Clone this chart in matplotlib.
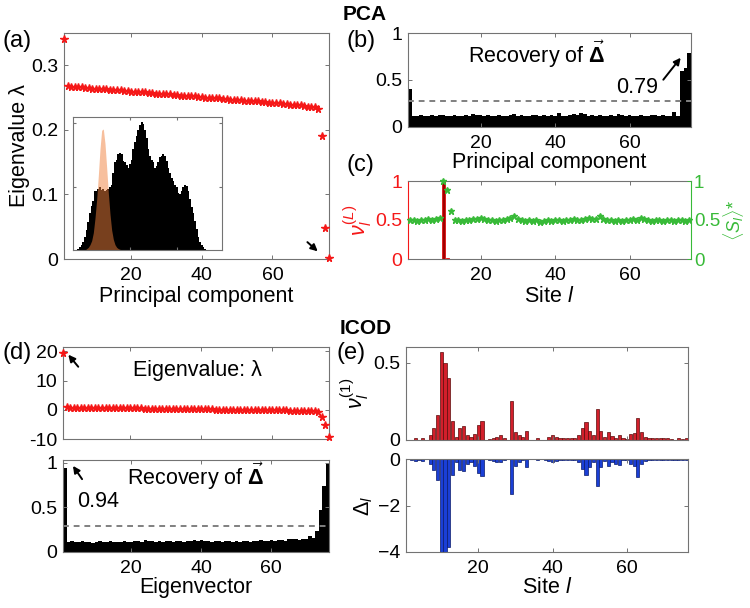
import numpy as np
import matplotlib
matplotlib.use("Agg")
import matplotlib.pyplot as plt

plt.rcParams['font.family'] = ['Liberation Sans', 'DejaVu Sans']
plt.rcParams['mathtext.fontset'] = 'custom'
plt.rcParams['mathtext.rm'] = 'Liberation Sans'
plt.rcParams['mathtext.it'] = 'Liberation Sans:italic'
plt.rcParams['mathtext.bf'] = 'Liberation Sans:bold'

# ---------------- data ----------------
sites = np.arange(1, 77)

pca_eig = [0.340,
    0.268,0.267,0.267,0.266,0.266,0.265,0.265,0.264,0.264,0.263,
    0.263,0.263,0.262,0.262,0.261,0.261,0.260,0.260,0.259,0.259,
    0.259,0.258,0.258,0.257,0.257,0.256,0.256,0.256,0.255,0.255,
    0.254,0.254,0.253,0.253,0.253,0.252,0.252,0.251,0.251,0.250,
    0.250,0.249,0.249,0.249,0.248,0.248,0.247,0.247,0.246,0.246,
    0.245,0.245,0.245,0.244,0.244,0.243,0.243,0.242,0.242,0.241,
    0.241,0.240,0.240,0.239,0.239,0.238,0.238,0.237,0.236,0.236,
    0.235,0.232,
    0.190,0.048,0.002]

# inset histogram (arbitrary bin positions / normalized heights)
hist_x = [20,25,30,35,40,45,50,55,60,65,70,75,80,85,90,95,100,105,110,115,
          120,125,130,135,140,145,150,155,160,165,170,175,180,185,190,195,200,205,210,215,
          220,225,230,235,240,245,250,255,260,265,270,275,280,285,290,295,300,305,310,315,
          320,325,330,335,340,345,350,355,360,365,370,375,380,385,390,395,400,405,410]
hist_black = [0.00,0.01,0.025,0.04,0.06,0.10,0.15,0.21,0.28,0.33,0.37,0.44,0.44,0.46,0.47,0.45,0.46,0.44,0.45,0.46,
              0.47,0.49,0.58,0.66,0.68,0.72,0.73,0.72,0.67,0.66,0.64,0.62,0.65,0.68,0.76,0.81,0.86,0.90,0.94,0.96,
              0.95,0.90,0.84,0.76,0.71,0.68,0.66,0.62,0.63,0.66,0.70,0.71,0.72,0.71,0.67,0.62,0.58,0.54,0.52,0.49,
              0.47,0.43,0.42,0.44,0.47,0.49,0.48,0.44,0.38,0.32,0.28,0.22,0.16,0.10,0.06,0.04,0.02,0.01,0.00]
orange_x = [45,50,55,60,65,70,75,80,85,90,95,100,105,110,115,120,125,130,135,140,145,150,155]
orange_y = [0.0,0.01,0.02,0.04,0.07,0.13,0.24,0.38,0.56,0.76,0.90,0.91,0.80,0.62,0.43,0.27,0.15,0.08,0.04,0.02,0.01,0.005,0.0]

pca_recovery = [0.40,
    0.12,0.12,0.13,0.12,0.12,0.13,0.12,0.13,0.13,0.12,
    0.12,0.13,0.12,0.12,0.13,0.12,0.14,0.13,0.13,0.12,
    0.13,0.12,0.12,0.13,0.12,0.12,0.13,0.14,0.12,0.13,
    0.12,0.12,0.13,0.13,0.12,0.13,0.12,0.13,0.12,0.15,
    0.12,0.12,0.13,0.14,0.13,0.15,0.14,0.12,0.13,0.12,
    0.13,0.12,0.12,0.13,0.12,0.14,0.13,0.12,0.13,0.12,
    0.12,0.13,0.12,0.12,0.13,0.13,0.12,0.13,0.12,0.12,
    0.16,0.12,
    0.60,0.63,0.79]

nu_L = [0]*9 + [1.0, 0.01] + [0]*65

S_mean = [0.50,0.50,0.49,0.50,0.50,0.51,0.50,0.51,0.52,1.00,
          0.89,0.62,0.50,0.50,0.49,0.50,0.50,0.51,0.51,0.52,
          0.51,0.50,0.50,0.49,0.50,0.50,0.51,0.52,0.55,0.51,
          0.50,0.49,0.50,0.49,0.50,0.48,0.49,0.50,0.49,0.50,
          0.50,0.49,0.50,0.50,0.51,0.50,0.50,0.51,0.52,0.51,
          0.51,0.55,0.51,0.50,0.50,0.49,0.50,0.49,0.50,0.50,
          0.51,0.50,0.53,0.51,0.50,0.49,0.50,0.50,0.49,0.50,
          0.50,0.49,0.50,0.50,0.49,0.50]

icod_eig = [19.5,
    0.80,0.78,0.76,0.75,0.73,0.71,0.70,0.68,0.66,0.65,
    0.63,0.61,0.60,0.58,0.56,0.55,0.53,0.51,0.50,0.48,
    0.46,0.45,0.43,0.41,0.40,0.38,0.36,0.35,0.33,0.31,
    0.30,0.28,0.26,0.25,0.23,0.21,0.20,0.18,0.16,0.15,
    0.13,0.11,0.10,0.08,0.06,0.05,0.03,0.01,0.00,-0.02,
    -0.04,-0.05,-0.07,-0.09,-0.10,-0.12,-0.14,-0.15,-0.17,-0.19,
    -0.20,-0.22,-0.24,-0.26,-0.28,-0.30,-0.32,-0.34,-0.37,-0.40,
    -0.45,-0.60,
    -2.5,-5.2,-9.4]

icod_recovery = [0.94,
    0.11,0.12,0.11,0.11,0.12,0.11,0.11,0.10,0.11,0.12,
    0.11,0.11,0.12,0.11,0.11,0.11,0.12,0.11,0.11,0.12,
    0.12,0.11,0.13,0.12,0.12,0.11,0.12,0.11,0.12,0.12,
    0.11,0.12,0.12,0.11,0.12,0.12,0.13,0.12,0.13,0.12,
    0.12,0.11,0.12,0.12,0.11,0.12,0.12,0.11,0.12,0.11,
    0.12,0.12,0.11,0.12,0.12,0.13,0.12,0.12,0.13,0.12,
    0.13,0.13,0.12,0.15,0.14,0.14,0.13,0.15,0.14,0.18,
    0.16,0.24,
    0.47,0.74,0.98]

nu_1 = [0.0,0.0,0.015,0.0,0.01,0.0,0.03,0.08,0.16,0.57,
        0.50,0.40,0.12,0.02,0.075,0.09,0.035,0.02,0.04,0.10,
        0.12,0.0,0.005,0.01,0.02,0.03,0.015,0.0,0.25,0.05,
        0.03,0.02,0.055,0.0,0.0,0.01,0.0,0.0,0.02,0.03,
        0.02,0.01,0.01,0.015,0.01,0.015,0.03,0.08,0.115,0.06,
        0.03,0.20,0.055,0.02,0.05,0.025,0.01,0.035,0.01,0.005,
        0.04,0.045,0.14,0.05,0.02,0.015,0.01,0.01,0.01,0.01,
        0.01,0.005,0.0,0.01,0.005,0.015]

delta = [-0.02,-0.03,-0.09,-0.03,-0.08,-0.02,-0.20,-0.47,-0.90,-4.05,
         -4.05,-3.78,-0.67,-0.13,-0.47,-0.53,-0.22,-0.15,-0.29,-0.59,
         -0.74,-0.02,-0.03,-0.10,-0.12,-0.14,-0.05,-0.02,-1.49,-0.30,
         -0.12,-0.05,-0.33,-0.02,-0.02,-0.05,-0.02,-0.03,-0.10,-0.12,
         -0.10,-0.05,-0.04,-0.06,-0.05,-0.06,-0.15,-0.42,-0.67,-0.36,
         -0.15,-1.16,-0.35,-0.10,-0.30,-0.12,-0.20,-0.25,-0.05,-0.04,
         -0.20,-0.30,-0.78,-0.23,-0.10,-0.05,-0.05,-0.04,-0.05,-0.05,
         -0.04,-0.05,-0.03,-0.04,-0.03,-0.05]

xticks = [20, 40, 60]

# ---------------- styling helpers ----------------
W, H = 750, 608
FRAME = '0.45'
TICK_FS = 14
LAB_FS = 15.5
TXT_FS = 15.5
RED = '#f51818'
GREEN = '#38ba38'

fig = plt.figure(figsize=(7.5, 6.08), dpi=100)

def axpx(l, t, r, b):
    return fig.add_axes([l / W, 1 - b / H, (r - l) / W, (b - t) / H])

def style(ax, right=True):
    for s in ax.spines.values():
        s.set_color(FRAME)
        s.set_linewidth(0.8)
    ax.tick_params(direction='in', length=3, width=0.7, color=FRAME,
                   labelsize=TICK_FS, top=True, right=right)
    ax.tick_params(axis='x', pad=6)
    ax.tick_params(axis='y', pad=4)

def arrow(ax, head, tail):
    ax.annotate('', xy=head, xytext=tail,
                arrowprops=dict(arrowstyle='-|>', color='black', lw=1.4, mutation_scale=10))

# ---------------- (a) ----------------
ax_a = axpx(64, 33, 329, 259)
ax_a.plot(sites, pca_eig, linestyle='none', marker='*', color=RED, markersize=5.5, clip_on=False, zorder=3)
ax_a.set_xlim(1, 76)
ax_a.set_ylim(0, 0.35)
ax_a.set_xticks(xticks)
ax_a.set_yticks([0, 0.1, 0.2, 0.3])
ax_a.set_yticklabels(['0', '0.1', '0.2', '0.3'])
style(ax_a)
ax_a.set_xlabel('Principal component', fontsize=LAB_FS, labelpad=1)
ax_a.set_ylabel('Eigenvalue λ', fontsize=LAB_FS, labelpad=1)
arrow(ax_a, (73.4, 0.009), (69.3, 0.029))

ax_in = axpx(73, 117, 222, 250)
ax_in.bar(hist_x, hist_black, width=5.2, color='black', linewidth=0)
ax_in.fill_between(orange_x, orange_y, color='#f0803c', alpha=0.5, linewidth=0)
ax_in.set_xlim(9, 456)
ax_in.set_ylim(0, 1.0)
ax_in.set_xticks([180, 320])
ax_in.set_yticks([0.475, 0.955])
ax_in.set_xticklabels([])
ax_in.set_yticklabels([])
for s in ax_in.spines.values():
    s.set_color(FRAME)
    s.set_linewidth(0.8)
ax_in.tick_params(direction='in', length=2, color=FRAME, top=True, right=True)

# ---------------- (b) ----------------
ax_b = axpx(408, 33, 691, 127)
ax_b.bar(sites, pca_recovery, width=1.0, color='black', linewidth=0)
ax_b.axhline(0.28, color='0.5', linestyle=(0, (3, 2.5)), linewidth=1.4)
ax_b.set_xlim(0.5, 76.5)
ax_b.set_ylim(0, 1)
ax_b.set_xticks(xticks)
ax_b.set_yticks([0, 0.5, 1])
ax_b.set_yticklabels(['0', '0.5', '1'])
style(ax_b)
ax_b.set_xlabel('Principal component', fontsize=LAB_FS, labelpad=0)
ax_b.text(35, 0.77, r'Recovery of $\vec{\mathbf{\Delta}}$', fontsize=TXT_FS,
          ha='center', va='center')
ax_b.text(62, 0.42, '0.79', fontsize=TXT_FS, ha='center', va='center')
arrow(ax_b, (74.2, 0.76), (68.6, 0.48))

# ---------------- (c) ----------------
ax_c = axpx(408, 181, 691, 259)
ax_c.bar(sites, nu_L, width=0.8, color='#a00000', edgecolor='#e01010', linewidth=0.6)
ax_c.set_xlim(0.5, 76.5)
ax_c.set_ylim(0, 1)
ax_c.set_xticks(xticks)
ax_c.set_yticks([0, 0.5, 1])
ax_c.set_yticklabels(['0', '0.5', '1'])
style(ax_c, right=False)
ax_c.tick_params(axis='y', colors=RED, labelcolor=RED)
ax_c.spines['left'].set_color(RED)
ax_c.set_xlabel(r'Site $l$', fontsize=LAB_FS, labelpad=1)
ax_c.set_ylabel(r'$\nu_l^{(L)}$', fontsize=LAB_FS, color=RED, labelpad=1)
ax_c2 = ax_c.twinx()
ax_c2.plot(sites, S_mean, linestyle='none', marker='*', color=GREEN, markersize=4.5, clip_on=False)
ax_c2.set_ylim(0, 1)
ax_c2.set_yticks([0, 0.5, 1])
ax_c2.set_yticklabels(['0', '0.5', '1'])
for s in ax_c2.spines.values():
    s.set_visible(False)
ax_c.spines['right'].set_color(GREEN)
ax_c2.tick_params(direction='in', length=3, width=0.7, labelsize=13.5,
                  colors=GREEN, labelcolor=GREEN, pad=2)
ax_c2.set_ylabel(r'$\langle S_l\rangle$*', fontsize=13, color=GREEN, labelpad=0.5)

# ---------------- (d) ----------------
ax_d1 = axpx(63, 347, 329, 439)
ax_d1.plot(sites, icod_eig, linestyle='none', marker='*', color=RED, markersize=5.5, clip_on=False, zorder=3)
ax_d1.set_xlim(1, 76)
ax_d1.set_ylim(-10, 21.5)
ax_d1.set_xticks(xticks)
ax_d1.set_xticklabels([])
ax_d1.set_yticks([-10, 0, 10, 20])
ax_d1.set_yticklabels(['-10', '0', '10', '20'])
style(ax_d1)
ax_d1.text(39, 13.5, 'Eigenvalue: λ', fontsize=TXT_FS, ha='center', va='center')
arrow(ax_d1, (2.0, 19.6), (5.8, 14.0))

ax_d2 = axpx(63, 460, 329, 552)
ax_d2.bar(sites, icod_recovery, width=1.0, color='black', linewidth=0)
ax_d2.axhline(0.29, color='0.5', linestyle=(0, (3, 2.5)), linewidth=1.4)
ax_d2.set_xlim(0.5, 76.5)
ax_d2.set_ylim(0, 1.03)
ax_d2.set_xticks(xticks)
ax_d2.set_yticks([0, 0.5, 1])
ax_d2.set_yticklabels(['0', '0.5', '1'])
style(ax_d2)
ax_d2.set_xlabel('Eigenvector', fontsize=LAB_FS, labelpad=0)
ax_d2.text(38.5, 0.85, r'Recovery of $\vec{\mathbf{\Delta}}$', fontsize=TXT_FS,
           ha='center', va='center')
ax_d2.text(10.4, 0.57, '0.94', fontsize=TXT_FS, ha='center', va='center')
arrow(ax_d2, (2.9, 0.99), (6.4, 0.79))

# ---------------- (e) ----------------
ax_e1 = axpx(406, 347, 688, 440)
ax_e1.bar(sites, nu_1, width=0.85, color='#d21f2b', edgecolor='#5a0a0a', linewidth=0.5)
ax_e1.set_xlim(0.5, 76.5)
ax_e1.set_ylim(0, 0.6)
ax_e1.set_xticks(xticks)
ax_e1.set_xticklabels([])
ax_e1.set_yticks([0, 0.5])
ax_e1.set_yticklabels(['0', '0.5'])
style(ax_e1)
ax_e1.set_ylabel(r'$\nu_l^{(1)}$', fontsize=LAB_FS, labelpad=2)

ax_e2 = axpx(406, 459, 688, 552)
ax_e2.bar(sites, delta, width=0.85, color='#1a3fd6', edgecolor='#0a1a6a', linewidth=0.5)
ax_e2.set_xlim(0.5, 76.5)
ax_e2.set_ylim(-4, 0)
ax_e2.set_xticks(xticks)
ax_e2.set_yticks([-4, -2, 0])
style(ax_e2)
ax_e2.set_xlabel(r'Site $l$', fontsize=LAB_FS, labelpad=0)
ax_e2.set_ylabel(r'$\Delta_l$', fontsize=LAB_FS, labelpad=2)

# ---------------- titles & panel letters ----------------
fig.text(365 / W, 1 - 14 / H, 'PCA', fontsize=15, fontweight='bold', ha='center', va='center')
fig.text(366 / W, 1 - 328 / H, 'ICOD', fontsize=15, fontweight='bold', ha='center', va='center')
for lab, x, y in [('(a)', 2, 41), ('(b)', 347, 41), ('(c)', 347, 165),
                  ('(d)', 2, 353), ('(e)', 336, 353)]:
    fig.text(x / W, 1 - y / H, lab, fontsize=17, ha='left', va='center')

fig.savefig('out.png', dpi=100)
